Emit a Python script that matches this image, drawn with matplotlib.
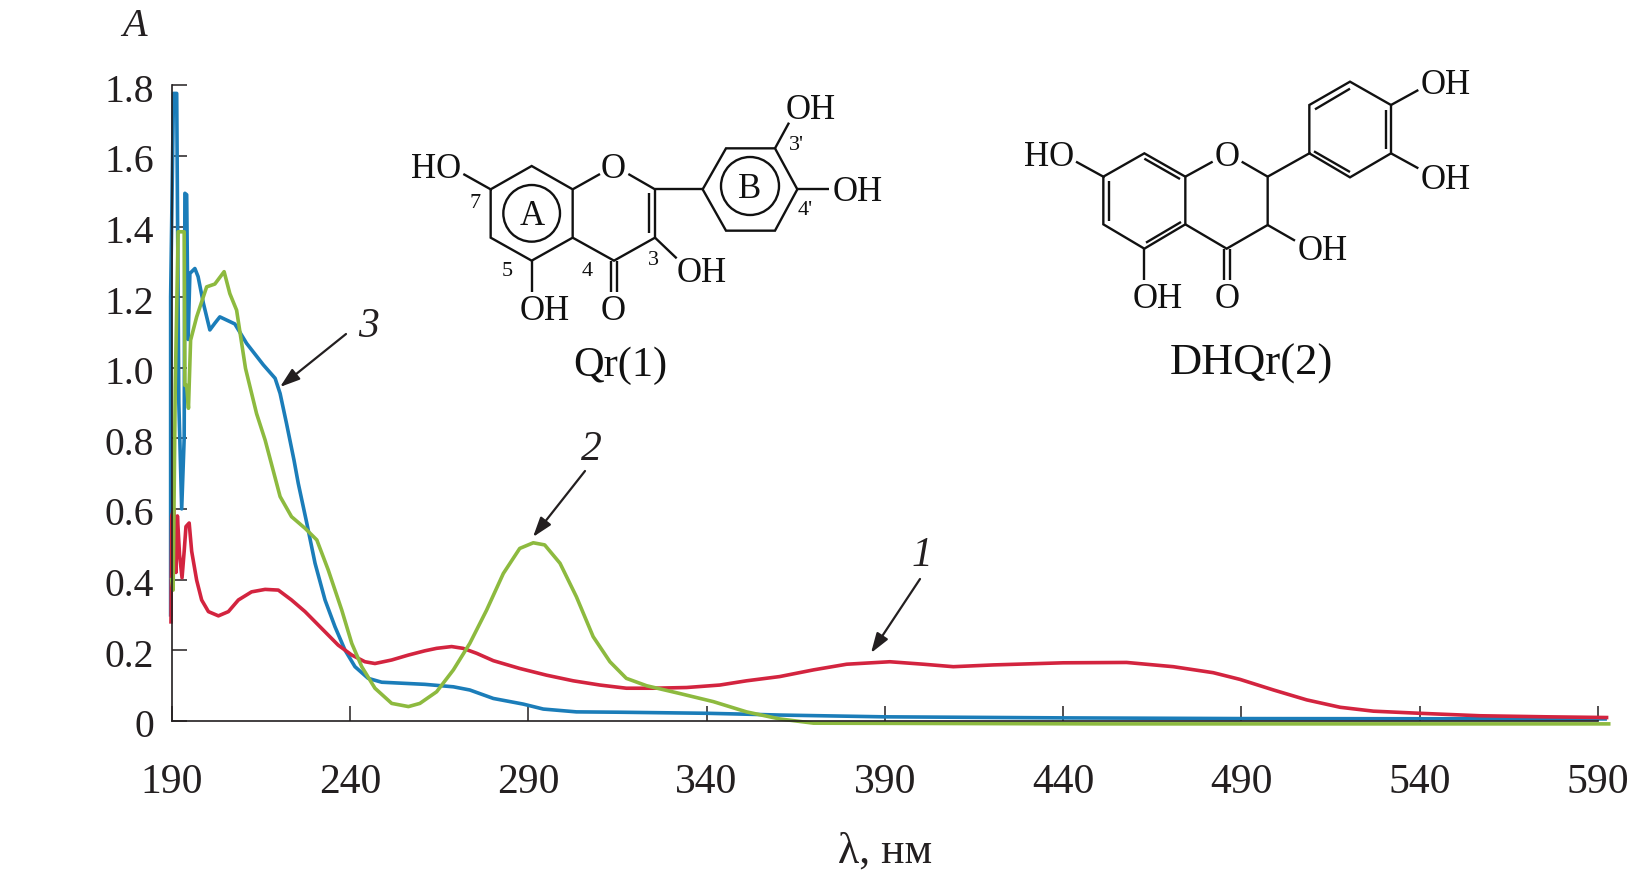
import matplotlib
matplotlib.use('Agg')
import matplotlib.pyplot as plt
from matplotlib.patches import Circle
from matplotlib.transforms import ScaledTranslation

plt.rcParams['font.family'] = ['Liberation Serif', 'DejaVu Serif']

# curve 1 (red)
wl_red = [189.8, 190, 190.6, 191.2, 191.6, 192.2, 192.9, 193.5, 194, 194.9, 195.6, 197, 198.4, 200.3, 203.1, 205.9,
          208.7, 212.4, 216.2, 219.9, 223.6, 227.4, 232, 236.7, 240.5, 244.2, 247, 251.7, 256.4, 261,
          264.3, 268.5, 271.7, 275.5, 280.2, 287.6, 295.1, 302.6, 310.1, 317.5, 325, 334.4, 343.7, 351.2, 360.5,
          370, 379.3, 391.4, 400.8, 409.2, 420.4, 440, 457.8, 470.9, 482.1, 489.6, 499, 508.3, 517.7, 527, 540,
          556.9, 575.6, 592.4]
abs_red = [0.28, 0.58, 0.6, 0.42, 0.58, 0.47, 0.405, 0.48, 0.55, 0.56, 0.48, 0.398, 0.342, 0.309, 0.297, 0.309,
           0.342, 0.365, 0.372, 0.37, 0.342, 0.309, 0.262, 0.214, 0.186, 0.167, 0.162, 0.172, 0.186, 0.198,
           0.205, 0.21, 0.205, 0.191, 0.17, 0.148, 0.129, 0.113, 0.101, 0.092, 0.092, 0.094, 0.101, 0.113, 0.125,
           0.144, 0.16, 0.167, 0.16, 0.153, 0.158, 0.164, 0.165, 0.153, 0.136, 0.117, 0.087, 0.059, 0.038, 0.027,
           0.021, 0.014, 0.011, 0.009]

# curve 2 (green)
wl_green = [190, 190.4, 191, 191.8, 193.5, 193.7, 194.2, 194.7, 195.3, 197, 199.8, 202.1, 204.7, 206.3, 208.2, 210.7,
            213.8, 216.2, 218.3, 220.4, 223.6, 227.4, 230.7, 233.9, 237.7, 240.5, 243.3, 247, 251.7, 256.4, 259.6,
            264.3, 269, 273.6, 278.3, 283, 287.6, 291.4, 294.6, 298.9, 303.5, 308.2, 312.9, 317.5, 323.2, 332.5,
            341.9, 351.2, 360.5, 370, 450, 520, 593]
abs_green = [0.4, 0.37, 0.95, 1.385, 1.385, 0.95, 0.95, 0.885, 1.078, 1.144, 1.229, 1.237, 1.272, 1.21, 1.163, 0.998,
             0.87, 0.795, 0.715, 0.635, 0.578, 0.545, 0.512, 0.427, 0.313, 0.219, 0.153, 0.092, 0.049, 0.04, 0.049,
             0.082, 0.144, 0.219, 0.313, 0.417, 0.488, 0.504, 0.498, 0.446, 0.351, 0.238, 0.167, 0.12, 0.099, 0.077,
             0.054, 0.025, 0.005, -0.007, -0.009, -0.009, -0.009]

# curve 3 (blue)
wl_blue = [189.7, 189.7, 190.5, 191.4, 192, 192.8, 193.5, 193.7, 194.2, 194.6, 195.1, 196.5, 197.4, 198.9, 200.7, 202.1,
           203.5, 207.7, 211, 215.7, 219, 220.4, 222.2, 224.3, 225.5, 227.9, 230.2, 233, 235.8, 238.6, 241.4, 245.1,
           248.9, 261, 269, 273.6, 280.2, 288.6, 294.2, 303.5, 315.7, 340, 353, 360.5, 389.6, 440, 490, 592]
abs_blue = [0.3, 1.2, 1.777, 1.777, 0.9, 0.6, 0.8, 1.494, 1.49, 1.08, 1.267, 1.281, 1.258, 1.182, 1.107, 1.126,
            1.144, 1.124, 1.069, 1.008, 0.97, 0.927, 0.842, 0.738, 0.672, 0.559, 0.446, 0.342, 0.266, 0.2, 0.153, 0.12,
            0.109, 0.103, 0.096, 0.087, 0.063, 0.047, 0.033, 0.025, 0.024, 0.021, 0.018, 0.016, 0.011, 0.008, 0.006, 0.005]

x_ticks = [190, 240, 290, 340, 390, 440, 490, 540, 590]
y_ticks = [0, 0.2, 0.4, 0.6, 0.8, 1.0, 1.2, 1.4, 1.6, 1.8]
y_labels = ['0', '0.2', '0.4', '0.6', '0.8', '1.0', '1.2', '1.4', '1.6', '1.8']

W, H = 1652, 876

fig = plt.figure(figsize=(W / 100, H / 100), dpi=100)
ax = fig.add_axes([171.7 / W, 1 - 720.7 / H, (1598 - 171.7) / W, (720.7 - 85.3) / H])

ax.plot(wl_blue, abs_blue, color='#1b7db9', lw=2.6, clip_on=False, solid_joinstyle='round')
ax.plot(wl_red, abs_red, color='#d3243f', lw=2.6, clip_on=False, solid_joinstyle='round')
ax.plot(wl_green, abs_green, color='#8dba3f', lw=2.6, clip_on=False, solid_joinstyle='round')

ax.set_xlim(190, 590)
ax.set_ylim(0, 1.8)
ax.set_xticks(x_ticks)
ax.set_yticks(y_ticks)
ax.set_yticklabels(y_labels)
ax.tick_params(axis='y', direction='in', length=10.8, width=1.1, labelsize=28.5, pad=12.5, colors='#231f20')
ax.tick_params(axis='x', direction='in', length=10.8, width=1.1, labelsize=30, pad=31, colors='#231f20')
for s in ['top', 'right']:
    ax.spines[s].set_visible(False)
for s in ['left', 'bottom']:
    ax.spines[s].set_linewidth(1.2)
    ax.spines[s].set_color('#231f20')
    ax.spines[s].set_zorder(5)

# y tick labels sit slightly lower than centred on the tick
shift = ScaledTranslation(0, -2.5 / 100, fig.dpi_scale_trans)
for lab in ax.get_yticklabels():
    lab.set_transform(lab.get_transform() + shift)

# overlay in pixels for the labels, arrows and the two structures
ov = fig.add_axes([0, 0, 1, 1])
ov.set_xlim(0, W)
ov.set_ylim(H, 0)
ov.axis('off')
ov.patch.set_alpha(0)

ink = '#231f20'
ov.text(135, 27, 'A', fontsize=29, style='italic', ha='center', va='center', color=ink)
ov.text(885, 852, 'λ, нм', fontsize=31.5, ha='center', va='center', color=ink)

arrows = [((346, 334), (280, 387), '3', (368, 327)),
          ((585, 471), (533, 537), '2', (591, 450)),
          ((920, 579), (871, 653), '1', (922, 556))]
for tail, head, name, pos in arrows:
    ov.annotate('', xy=head, xytext=tail,
                arrowprops=dict(arrowstyle='-|>,head_length=0.6,head_width=0.2', color=ink, lw=1.6,
                                mutation_scale=20, shrinkA=0, shrinkB=0))
    ov.text(pos[0], pos[1], name, fontsize=30, style='italic', ha='center', va='center', color=ink)


def draw_mol(x0, y0, paths, circles, labels):
    for p in paths:
        ov.plot([x0 + c[0] / 3 for c in p], [y0 + c[1] / 3 for c in p], color='#111111', lw=1.7,
                solid_joinstyle='miter', solid_capstyle='butt')
    for cx, cy, r in circles:
        ov.add_patch(Circle((x0 + cx / 3, y0 + cy / 3), r / 3, fill=False, ec='#111111', lw=1.7))
    for lx, ly, txt, fs in labels:
        ov.text(x0 + lx / 3, y0 + (ly + 7) / 3, txt, fontsize=fs, ha='center', va='center', color='#111111')


qr_paths = [
    [(302, 358), (425, 288), (548, 358), (548, 503), (425, 572), (302, 503), (302, 358)],
    [(548, 358), (630, 312)], [(715, 312), (795, 358), (795, 503), (672, 572), (548, 503)],
    [(778, 370), (778, 490)],
    [(663, 572), (663, 665)], [(681, 572), (681, 665)],
    [(795, 503), (860, 565)], [(425, 572), (425, 665)], [(302, 358), (220, 312)],
    [(795, 358), (938, 358)],
    [(938, 358), (1008, 235), (1155, 235), (1222, 358), (1155, 482), (1008, 482), (938, 358)],
    [(1155, 235), (1197, 158)], [(1222, 358), (1318, 358)],
]
qr_circles = [(425, 430, 85), (1080, 348, 87)]
qr_labels = [(138, 292, 'HO', 25), (670, 292, 'O', 25), (935, 605, 'OH', 25), (465, 718, 'OH', 25),
             (670, 718, 'O', 25), (1262, 115, 'OH', 25), (1403, 360, 'OH', 25),
             (427, 432, 'A', 25), (1080, 352, 'B', 25),
             (255, 392, '7', 16), (352, 598, '5', 16), (593, 598, '4', 16), (790, 565, '3', 16),
             (1220, 218, "3'", 16), (1245, 415, "4'", 16),
             (690, 880, 'Qr(1)', 30.5)]
draw_mol(390, 70, qr_paths, qr_circles, qr_labels)

dhq_paths = [
    [(310, 380), (433, 310), (556, 380), (556, 523), (433, 596), (310, 523), (310, 380)],
    [(433, 326), (540, 387)], [(326, 392), (326, 512)], [(438, 578), (543, 516)],
    [(556, 380), (638, 335)], [(725, 335), (803, 380), (803, 525), (680, 596), (556, 523)],
    [(671, 596), (671, 690)], [(689, 596), (689, 690)],
    [(803, 525), (885, 572)], [(433, 596), (433, 690)], [(310, 380), (228, 335)],
    [(803, 380), (928, 310)],
    [(928, 310), (928, 165), (1050, 95), (1173, 165), (1173, 310), (1050, 382), (928, 310)],
    [(945, 178), (1050, 116)], [(1157, 180), (1157, 298)], [(942, 304), (1050, 366)],
    [(1173, 165), (1255, 120)], [(1173, 310), (1255, 355)],
]
dhq_labels = [(147, 315, 'HO', 25), (680, 315, 'O', 25), (967, 598, 'OH', 25), (473, 742, 'OH', 25),
              (680, 742, 'O', 25), (1338, 100, 'OH', 25), (1338, 385, 'OH', 25),
              (755, 935, 'DHQr(2)', 32)]
draw_mol(1000, 50, dhq_paths, [], dhq_labels)

fig.savefig('out.png', dpi=100)
